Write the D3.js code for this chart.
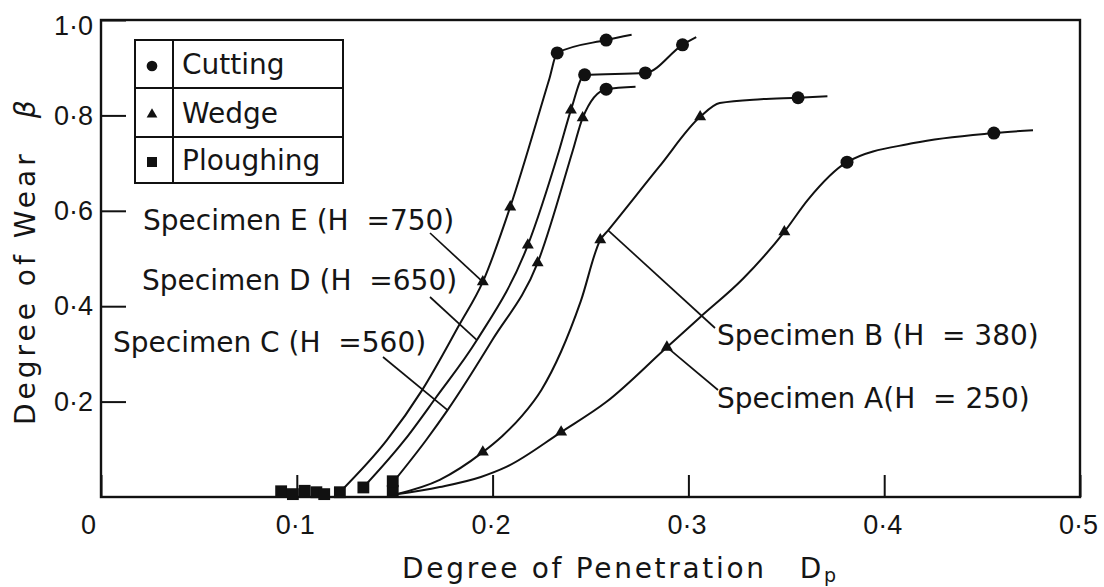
<!DOCTYPE html>
<html>
  <head>
    <meta charset="utf-8">
    <title>Degree of Wear vs Degree of Penetration</title>
    <script src="https://d3js.org/d3.v7.min.js"></script>
    <style>
      body { margin: 0; background: #fff; }
      svg { display: block; font-family: "DejaVu Sans", sans-serif; }
      .axis .tick line { stroke: #111; stroke-width: 2px; }
      .axis .tick text { font-size: 27px; fill: #151515; }
      .axis .domain { display: none; }
      .frame { fill: none; stroke: #111; stroke-width: 2.4px; }
      .curve { fill: none; stroke: #111; stroke-width: 2px; }
      .leader { stroke: #111; stroke-width: 1.7px; }
      .label { font-size: 28px; fill: #151515; white-space: pre; }
      .axis__label { font-size: 28px; fill: #151515; white-space: pre; }
      .legend rect, .legend line { fill: none; stroke: #111; stroke-width: 2px; }
      .marker { fill: #111; }
    </style>
  </head>
  <body>
    <svg width="1104" height="587"></svg>
    <script>
      // each point: [Dp, beta, marker]   c = cutting, w = wedge, "" = plain curve point
      const specimenE = [
        [0.122, 0.010, ""], [0.146, 0.119, ""], [0.164, 0.224, ""], [0.183, 0.361, ""],
        [0.195, 0.451, "w"], [0.209, 0.608, "w"], [0.229, 0.877, ""], [0.233, 0.931, "c"],
        [0.258, 0.958, "c"], [0.271, 0.969, ""]
      ];
      const specimenD = [
        [0.134, 0.020, ""], [0.155, 0.119, ""], [0.171, 0.208, ""], [0.192, 0.329, ""],
        [0.218, 0.528, "w"], [0.234, 0.727, ""], [0.240, 0.811, "w"], [0.247, 0.885, "c"],
        [0.278, 0.889, "c"], [0.297, 0.948, "c"], [0.304, 0.964, ""]
      ];
      const specimenC = [
        [0.149, 0.030, ""], [0.166, 0.119, ""], [0.177, 0.182, ""], [0.200, 0.330, ""],
        [0.223, 0.491, "w"], [0.241, 0.727, ""], [0.246, 0.795, "w"], [0.258, 0.855, "c"],
        [0.273, 0.860, ""]
      ];
      const specimenB = [
        [0.150, 0.005, ""], [0.173, 0.036, ""], [0.195, 0.094, "w"], [0.205, 0.128, ""],
        [0.215, 0.170, ""], [0.225, 0.225, ""], [0.235, 0.305, ""], [0.245, 0.410, ""],
        [0.255, 0.539, "w"], [0.259, 0.559, ""], [0.285, 0.692, ""], [0.306, 0.797, "w"],
        [0.316, 0.826, ""], [0.337, 0.834, ""], [0.356, 0.837, "c"], [0.371, 0.840, ""]
      ];
      const specimenA = [
        [0.150, 0.005, ""], [0.173, 0.021, ""], [0.194, 0.042, ""], [0.207, 0.063, ""],
        [0.235, 0.136, "w"], [0.258, 0.199, ""], [0.289, 0.314, "w"], [0.306, 0.377, ""],
        [0.328, 0.458, ""], [0.349, 0.556, "w"], [0.361, 0.623, ""], [0.381, 0.702, "c"],
        [0.415, 0.742, ""], [0.456, 0.763, "c"], [0.476, 0.769, ""]
      ];
      const ploughing = [
        [0.092, 0.012], [0.098, 0.006], [0.104, 0.013], [0.110, 0.010], [0.114, 0.006],
        [0.122, 0.010], [0.134, 0.020], [0.149, 0.013], [0.149, 0.033]
      ];
      const specimenLabels = [
        "Specimen E (H  =750)", "Specimen D (H  =650)", "Specimen C (H  =560)",
        "Specimen B (H  = 380)", "Specimen A(H  = 250)"
      ];
      // index of the curve point each leader line points at
      const leaderTargets = [4, 3, 2, 9, 6];
      const legendLabels = ["Cutting", "Wedge", "Ploughing"];
      const xTicks = [0, 0.1, 0.2, 0.3, 0.4, 0.5];
      const yTicks = [0.2, 0.4, 0.6, 0.8, 1.0];
      const xLabel = "Degree of Penetration";
      const yLabel = "Degree of Wear";

      const specimens = [specimenE, specimenD, specimenC, specimenB, specimenA];

      // layout
      const plotLeft = 101, plotRight = 1080, plotTop = 20, plotBottom = 497;
      const labelPos = [[143, 230], [142, 290], [113, 352], [717, 345], [717, 408]];
      const leaderStart = [[430, 233], [430, 297], [383, 357], [715, 328], [718, 390]];
      const legendBox = {x: 135, y: 40, w: 208, rows: [40, 88, 137, 183], divider: 173};

      const svg = d3.select("svg");
      const fmt = d => d === 0 ? "0" : d3.format(".1f")(d).replace(".", "·");

      const xScale = d3.scaleLinear().domain([0, 0.5]).range([plotLeft, plotRight]);
      const yScale = d3.scaleLinear().domain([0, 1]).range([plotBottom, plotTop]);

      const xAxisG = svg.append("g")
          .attr("class", "axis")
          .attr("transform", `translate(0, ${plotBottom})`)
          .call(d3.axisBottom(xScale)
            .tickValues(xTicks)
            .tickFormat(fmt)
            .tickSizeInner(-22)
            .tickSizeOuter(0)
            .tickPadding(18));
      xAxisG.selectAll(".tick text").attr("dx", d => d === 0 ? -13 : -2);

      const yAxisG = svg.append("g")
          .attr("class", "axis")
          .attr("transform", `translate(${plotLeft}, 0)`)
          .call(d3.axisLeft(yScale)
            .tickValues(yTicks)
            .tickFormat(fmt)
            .tickSizeInner(-25)
            .tickSizeOuter(0)
            .tickPadding(8));
      yAxisG.selectAll(".tick text").attr("dy", d => d === 1 ? "0.55em" : "0.32em");

      svg.append("rect")
          .attr("class", "frame")
          .attr("x", plotLeft)
          .attr("y", plotTop)
          .attr("width", plotRight - plotLeft)
          .attr("height", plotBottom - plotTop);

      // axis titles
      const yTitle = svg.append("text")
          .attr("class", "axis__label")
          .attr("letter-spacing", 4)
          .attr("transform", `translate(35, 425) rotate(-90)`)
          .text(yLabel);
      yTitle.append("tspan")
          .attr("dx", 32)
          .attr("font-style", "italic")
          .text("β");

      const xTitle = svg.append("text")
          .attr("class", "axis__label")
          .attr("letter-spacing", 2.7)
          .attr("x", 402)
          .attr("y", 578)
          .text(xLabel);
      xTitle.append("tspan").attr("dx", 33).text("D");
      xTitle.append("tspan").attr("dy", 4).attr("font-size", 19).text("p");

      // curves
      const line = d3.line()
          .x(d => xScale(d[0]))
          .y(d => yScale(d[1]))
          .curve(d3.curveMonotoneX);

      svg.append("g").selectAll("path")
        .data(specimens)
        .enter().append("path")
          .attr("class", "curve")
          .attr("d", line);

      // leader lines and specimen labels
      svg.append("g").selectAll("line")
        .data(specimens)
        .enter().append("line")
          .attr("class", "leader")
          .attr("x1", (d, i) => leaderStart[i][0])
          .attr("y1", (d, i) => leaderStart[i][1])
          .attr("x2", (d, i) => xScale(d[leaderTargets[i]][0]))
          .attr("y2", (d, i) => yScale(d[leaderTargets[i]][1]));

      svg.append("g").selectAll("text")
        .data(specimenLabels)
        .enter().append("text")
          .attr("class", "label")
          .attr("x", (d, i) => labelPos[i][0])
          .attr("y", (d, i) => labelPos[i][1])
          .text(d => d);

      // markers
      const allPoints = specimens.flat();
      const triangle = d3.symbol(d3.symbolTriangle, 62);
      const square = d3.symbol(d3.symbolSquare, 140);

      const markersG = svg.append("g");
      markersG.selectAll(".sq")
        .data(ploughing)
        .enter().append("path")
          .attr("class", "marker sq")
          .attr("d", square)
          .attr("transform", d => `translate(${xScale(d[0])}, ${yScale(d[1])})`);
      markersG.selectAll(".tri")
        .data(allPoints.filter(d => d[2] === "w"))
        .enter().append("path")
          .attr("class", "marker tri")
          .attr("d", triangle)
          .attr("transform", d => `translate(${xScale(d[0])}, ${yScale(d[1])})`);
      markersG.selectAll("circle")
        .data(allPoints.filter(d => d[2] === "c"))
        .enter().append("circle")
          .attr("class", "marker")
          .attr("r", 6.5)
          .attr("cx", d => xScale(d[0]))
          .attr("cy", d => yScale(d[1]));

      // legend
      const legendG = svg.append("g").attr("class", "legend");
      legendG.append("rect")
          .attr("x", legendBox.x)
          .attr("y", legendBox.y)
          .attr("width", legendBox.w)
          .attr("height", legendBox.rows[3] - legendBox.rows[0]);
      legendG.append("line")
          .attr("x1", legendBox.divider).attr("x2", legendBox.divider)
          .attr("y1", legendBox.y).attr("y2", legendBox.rows[3]);
      legendG.selectAll(".row")
        .data(legendBox.rows.slice(1, 3))
        .enter().append("line")
          .attr("class", "row")
          .attr("x1", legendBox.x).attr("x2", legendBox.x + legendBox.w)
          .attr("y1", d => d).attr("y2", d => d);

      const legendItems = legendG.selectAll(".item")
        .data(legendLabels)
        .enter().append("g")
          .attr("class", "item")
          .attr("transform", (d, i) =>
            `translate(0, ${(legendBox.rows[i] + legendBox.rows[i + 1]) / 2})`);
      legendItems.append("path")
          .attr("class", "marker")
          .attr("transform", "translate(152, 2)")
          .attr("d", (d, i) => [
            d3.symbol(d3.symbolCircle, 90)(),
            d3.symbol(d3.symbolTriangle, 50)(),
            d3.symbol(d3.symbolSquare, 100)()
          ][i]);
      legendItems.append("text")
          .attr("class", "label")
          .attr("x", 182)
          .attr("y", 10)
          .text(d => d);
    </script>
  </body>
</html>
